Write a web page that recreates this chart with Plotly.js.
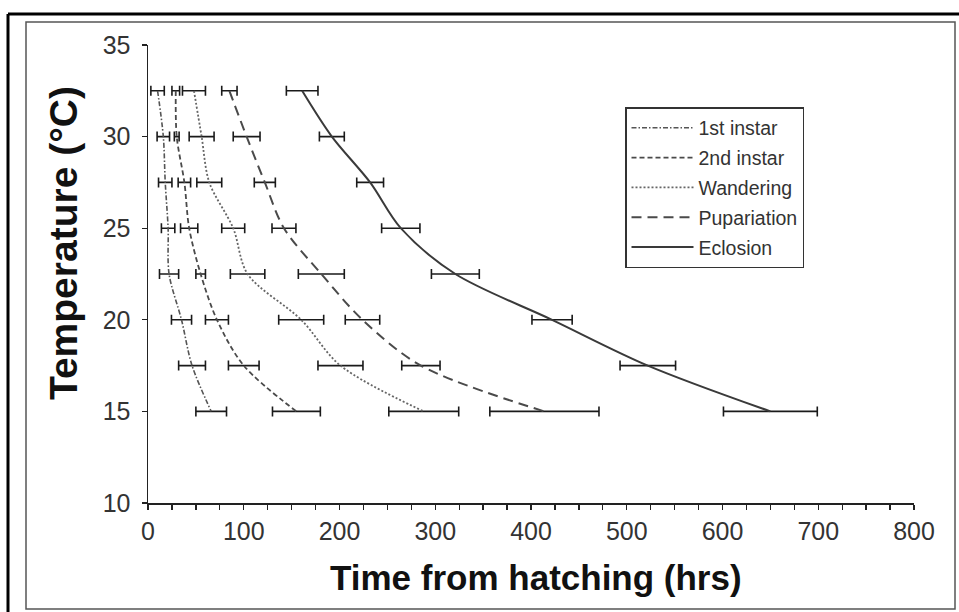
<!DOCTYPE html>
<html>
<head>
<meta charset="utf-8">
<script src="https://cdn.plot.ly/plotly-3.0.1.min.js"></script>
<style>
html,body{margin:0;padding:0;background:#fff;}
#chart{width:959px;height:612px;}
</style>
</head>
<body>
<div id="chart"></div>
<script>
// ---- data ----
const temperatures = [32.5, 30, 27.5, 25, 22.5, 20, 17.5, 15];
const seriesNames = ["1st instar", "2nd instar", "Wandering", "Pupariation", "Eclosion"];

const firstInstar      = [10, 16, 18, 21, 22, 35, 46, 66];
const firstInstarErr   = [7, 6.5, 7, 7, 10, 10.5, 14, 16];
const secondInstar     = [29, 30, 38, 43, 55, 72, 100, 155];
const secondInstarErr  = [4, 2.5, 6.5, 9, 5, 12, 16, 25];
const wandering        = [48, 56, 64, 89, 104, 160, 201, 288];
const wanderingErr     = [12, 13, 13, 12, 18, 23.5, 23.5, 36.5];
const pupariation      = [85, 103, 122, 142, 181, 224, 285, 414];
const pupariationErr   = [8, 14, 11, 12.5, 24, 18, 20, 57];
const eclosion         = [161, 192, 232, 264, 321, 422, 522, 650];
const eclosionErr      = [16.5, 13, 14, 20, 25, 21, 29, 49];

const xTickVals = [0, 100, 200, 300, 400, 500, 600, 700, 800];
const yTickVals = [10, 15, 20, 25, 30, 35];

// ---- layout geometry ----
const W = 959, H = 612;
const M = {l: 148, r: 45, t: 45, b: 109};
const PW = W - M.l - M.r, PH = H - M.t - M.b;
const px2x = p => (p - M.l) / PW;
const py2y = p => (H - M.b - p) / PH;

const styles = [
  {dash: "5px,2px,1.5px,2px", color: "#555", width: 1.6},
  {dash: "5px,3px", color: "#4a4a4a", width: 1.8},
  {dash: "2px,2px", color: "#666", width: 1.8},
  {dash: "10px,6px", color: "#4a4a4a", width: 2},
  {dash: "solid", color: "#3a3a3a", width: 2}
];
const values = [firstInstar, secondInstar, wandering, pupariation, eclosion];
const errors = [firstInstarErr, secondInstarErr, wanderingErr, pupariationErr, eclosionErr];

const traces = seriesNames.map((name, i) => ({
  type: "scatter",
  mode: "lines",
  name: name,
  legendgroup: "g" + i,
  x: values[i],
  y: temperatures,
  line: {color: styles[i].color, width: styles[i].width, dash: styles[i].dash, shape: "spline", smoothing: 0.9},
  error_x: {type: "data", array: errors[i], visible: true, color: "#1a1a1a", thickness: 1.6, width: 5},
  hoverinfo: "x+y+name"
}));

const layout = {
  width: W, height: H,
  margin: M,
  paper_bgcolor: "#fff",
  plot_bgcolor: "#fff",
  font: {family: "Liberation Sans, Arial, sans-serif", color: "#333"},
  showlegend: true,
  legend: {
    x: px2x(625), y: py2y(107), xanchor: "left", yanchor: "top",
    bgcolor: "#fff", bordercolor: "#333", borderwidth: 1.5,
    font: {size: 19.5, color: "#333"},
    traceorder: "grouped", tracegroupgap: 1.5, itemwidth: 62
  },
  xaxis: {
    range: [0, 800], tickvals: xTickVals, ticks: "outside", ticklen: 5, tickwidth: 1.3, tickcolor: "#222",
    showline: true, linecolor: "#222", linewidth: 1.5, showgrid: false, zeroline: false,
    tickfont: {size: 25, color: "#333"},
    minor: {dtick: 25, ticks: "outside", ticklen: 5, tickwidth: 1.3, tickcolor: "#222", showgrid: false}
  },
  yaxis: {
    range: [10, 35], tickvals: yTickVals, ticks: "outside", ticklen: 5, tickwidth: 1.3, tickcolor: "#222",
    showline: true, linecolor: "#222", linewidth: 1.5, showgrid: false, zeroline: false,
    tickfont: {size: 25, color: "#333"}, ticklabelstandoff: 6
  },
  annotations: [
    {text: "<b>Time from hatching (hrs)</b>", xref: "paper", yref: "paper",
     x: px2x(536), y: py2y(577), xanchor: "center", yanchor: "middle", showarrow: false,
     font: {size: 35, color: "#111"}},
    {text: "<b>Temperature (°C)</b>", xref: "paper", yref: "paper", textangle: -90,
     x: px2x(63), y: py2y(243), xanchor: "center", yanchor: "middle", showarrow: false,
     font: {size: 39, color: "#111"}}
  ],
  shapes: [
    {type: "line", xref: "paper", yref: "paper", x0: px2x(8), x1: px2x(962), y0: py2y(14), y1: py2y(14), line: {color: "#000", width: 3}},
    {type: "line", xref: "paper", yref: "paper", x0: px2x(8), x1: px2x(8), y0: py2y(14), y1: py2y(615), line: {color: "#000", width: 3}},
    {type: "rect", xref: "paper", yref: "paper", x0: px2x(26), x1: px2x(955), y0: py2y(22), y1: py2y(609), line: {color: "#555", width: 1.5}}
  ]
};

Plotly.newPlot("chart", traces, layout, {displayModeBar: false, staticPlot: true});
</script>
</body>
</html>
